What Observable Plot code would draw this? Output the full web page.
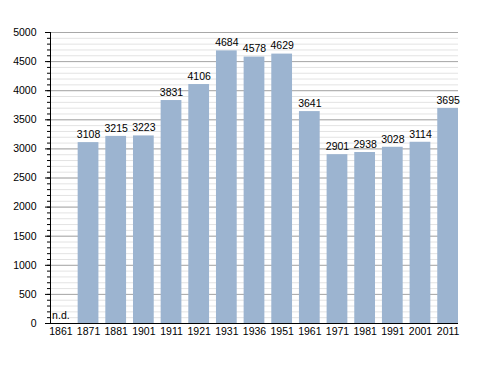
<!DOCTYPE html>
<html>
<head>
<meta charset="utf-8">
<script src="https://cdn.jsdelivr.net/npm/d3@7"></script>
<script src="https://cdn.jsdelivr.net/npm/@observablehq/plot@0.6"></script>
<style>
  html, body { margin: 0; padding: 0; background: #fff; }
  svg { font-family: "Liberation Sans", Arial, sans-serif; }
</style>
</head>
<body>
<div id="chart"></div>
<script>
const years = ["1861","1871","1881","1901","1911","1921","1931","1936","1951","1961","1971","1981","1991","2001","2011"];
const population = [null,3108,3215,3223,3831,4106,4684,4578,4629,3641,2901,2938,3028,3114,3695];
const majorTicks = [0,500,1000,1500,2000,2500,3000,3500,4000,4500,5000];
const minorTicks = d3.range(0, 5001, 100);

const data = years.map((y, i) => ({year: y, value: population[i]}));
const present = data.filter(d => d.value != null);
const missing = data.filter(d => d.value == null);

const chart = Plot.plot({
  width: 488,
  height: 373,
  marginTop: 32,
  marginBottom: 50,
  marginLeft: 50,
  marginRight: 30,
  style: {fontFamily: "Liberation Sans, Arial, sans-serif", fontSize: "10.5px", background: "#fff"},
  x: {domain: years, paddingInner: 0.25, paddingOuter: 0, round: false, label: null},
  y: {domain: [0, 5000], label: null},
  marks: [
    Plot.ruleY(minorTicks, {stroke: "#e3e3e3", strokeWidth: 1}),
    Plot.ruleY(majorTicks, {stroke: "#a8a8a8", strokeWidth: 1}),
    Plot.barY(present, {x: "year", y: "value", fill: "#9cb4d0"}),
    Plot.text(present, {x: "year", y: "value", text: d => String(d.value), dy: -8, fill: "#000", fontSize: 10.5}),
    Plot.text(missing, {x: "year", y: 0, text: () => "n.d.", dy: -8, fill: "#000", fontSize: 10.5}),
    Plot.axisY({ticks: minorTicks, tickSize: 3, tickFormat: () => "", stroke: "#000"}),
    Plot.axisY({ticks: majorTicks, tickSize: 5, tickPadding: 9, tickFormat: d => String(d), fill: "#000", stroke: "#000", fontSize: 10.5}),
    Plot.axisX({tickSize: 0, tickPadding: 4, fill: "#000", fontSize: 10.5}),
    Plot.ruleY([0], {stroke: "#000", strokeWidth: 1.2}),
    Plot.frame({anchor: "left", stroke: "#000"})
  ]
});
document.getElementById("chart").appendChild(chart);
</script>
</body>
</html>
